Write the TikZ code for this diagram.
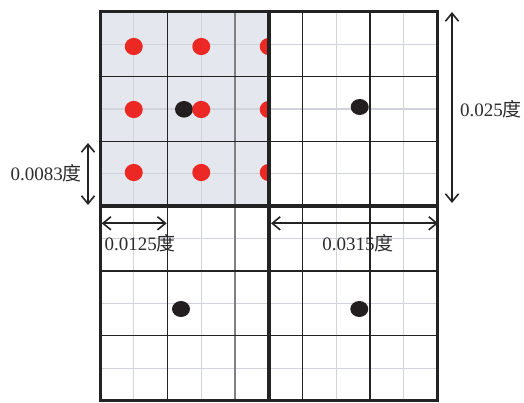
\documentclass[tikz,border=0pt]{standalone}
\usepackage{fontspec}
\setmainfont{Liberation Serif}
\newfontfamily\cjk{Noto Sans CJK SC}
\usetikzlibrary{arrows.meta}
\definecolor{cellfill}{RGB}{228,232,238}
\definecolor{finegrid}{RGB}{208,212,218}
\definecolor{reddot}{RGB}{236,40,36}
\definecolor{blackdot}{RGB}{35,31,32}
\definecolor{linecol}{RGB}{35,35,35}
\definecolor{txtcol}{RGB}{45,45,45}
\tikzset{
  fineline/.style={draw=finegrid, line width=1.2pt},
  majorline/.style={draw=linecol, line width=1.3pt},
  thickline/.style={draw=linecol, line width=4.2pt},
  borderline/.style={draw=linecol, line width=3pt},
  rdot/.style={fill=reddot, draw=none},
  bdot/.style={fill=blackdot, draw=none},
  dimarrow/.style={draw=linecol, line width=1.6pt, {Straight Barb[length=2.8mm,width=4.6mm]}-{Straight Barb[length=2.8mm,width=4.6mm]}},
  lbl/.style={text=txtcol, font=\fontsize{19}{21}\selectfont, inner sep=0pt}
}
\begin{document}
\begin{tikzpicture}[x=1pt,y=-1pt]
\useasboundingbox (0,0) rectangle (524,403);
% fill of top-left quadrant
\fill[cellfill] (100,12) rectangle (268.75,206.25);
% fine grid
\foreach \x in {133.75,201.25,268.75,336.25,403.75}
  \draw[fineline] (\x,12) -- (\x,400.5);
\foreach \y in {44.4,109.1,173.9,238.6,303.4,368.1}
  \draw[fineline] (100,\y) -- (437.5,\y);
% major grid
\foreach \x in {167.5,302.5,370}
  \draw[majorline] (\x,12) -- (\x,400.5);
\draw[majorline, draw=gray] (235,12) -- (235,400.5);
\foreach \y in {76.75,141.5,271,335.75}
  \draw[majorline] (100,\y) -- (437.5,\y);
% black dots
\fill[bdot] (184,109.3) ellipse (9pt and 8.3pt);
\fill[bdot] (359.7,107) ellipse (9pt and 8pt);
\fill[bdot] (181,309) ellipse (9pt and 8pt);
\fill[bdot] (359.3,309) ellipse (9pt and 8pt);
% red dots (clipped to quadrant)
\begin{scope}
  \clip (100,12) rectangle (268.75,206.25);
  \foreach \x in {133.75,201.25,268.75}
    \foreach \y in {46.5,109.5,172.5}
      \fill[rdot] (\x,\y) ellipse (9pt and 8.6pt);
\end{scope}
% thick separators
\draw[thickline] (268.75,12) -- (268.75,400.5);
\draw[thickline] (100,206.25) -- (437.5,206.25);
% border
\draw[borderline] (100,12) rectangle (437.5,400.5);
% dimension arrows
\coordinate (a1s) at (88,143);
\coordinate (a1e) at (88,205);
\coordinate (a2s) at (452,12);
\coordinate (a2e) at (452,203);
\coordinate (a3s) at (101.7,223.3);
\coordinate (a3e) at (166.7,223.3);
\coordinate (a4s) at (271,223.3);
\coordinate (a4e) at (438,223.3);
\draw[dimarrow] (a1s) -- (a1e);
\draw[dimarrow] (a2s) -- (a2e);
\draw[dimarrow] (a3s) -- (a3e);
\draw[dimarrow] (a4s) -- (a4e);
% labels
\node[lbl, anchor=east] (l1) at (82,173.3) {0.0083{\cjk 度}};
\node[lbl, anchor=west] (l2) at (460,109.3) {0.025{\cjk 度}};
\node[lbl, anchor=west] (l3) at (104.5,243.3) {0.0125{\cjk 度}};
\node[lbl] (l4) at (358,243.3) {0.0315{\cjk 度}};
\end{tikzpicture}
\end{document}
